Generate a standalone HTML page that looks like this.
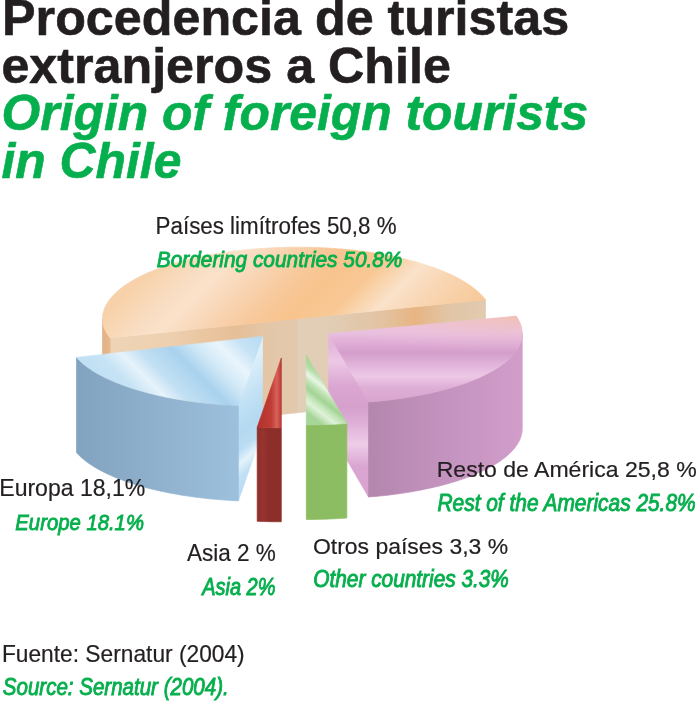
<!DOCTYPE html>
<html><head><meta charset="utf-8"><style>
html,body{margin:0;padding:0;background:#fff;}
svg{display:block;will-change:transform;}
text{font-family:"Liberation Sans",sans-serif;}
</style></head><body>
<svg width="700" height="702" viewBox="0 0 700 702">
<defs>
<linearGradient id="gOrTop" gradientUnits="userSpaceOnUse" x1="210" y1="210" x2="395" y2="395">
  <stop offset="0.000" stop-color="#f7d1a9"/>
  <stop offset="0.068" stop-color="#f8d8b7"/>
  <stop offset="0.135" stop-color="#f9dec4"/>
  <stop offset="0.192" stop-color="#fae2ca"/>
  <stop offset="0.257" stop-color="#f9dabd"/>
  <stop offset="0.324" stop-color="#f8d2ae"/>
  <stop offset="0.405" stop-color="#f8c99c"/>
  <stop offset="0.500" stop-color="#f8c38d"/>
  <stop offset="0.608" stop-color="#f8c894"/>
  <stop offset="0.719" stop-color="#fae2ca"/>
  <stop offset="0.789" stop-color="#f9d9ba"/>
  <stop offset="0.878" stop-color="#f8d1a9"/>
  <stop offset="1.000" stop-color="#f7c796"/>
</linearGradient>
<linearGradient id="gOrFaceL" gradientUnits="userSpaceOnUse" x1="111" y1="0" x2="297.5" y2="0">
  <stop offset="0" stop-color="#eed4b5"/>
  <stop offset="0.3" stop-color="#edd0b0"/>
  <stop offset="0.5" stop-color="#eac6a1"/>
  <stop offset="0.68" stop-color="#e6bf98"/>
  <stop offset="0.8" stop-color="#e5c5a5"/>
  <stop offset="0.9" stop-color="#e3c8ab"/>
  <stop offset="1" stop-color="#e2c8ac"/>
</linearGradient>
<linearGradient id="gOrFaceR" gradientUnits="userSpaceOnUse" x1="297.5" y1="0" x2="486" y2="0">
  <stop offset="0" stop-color="#e2cfb8"/>
  <stop offset="0.2" stop-color="#e1ccb3"/>
  <stop offset="0.45" stop-color="#e2c3a2"/>
  <stop offset="0.62" stop-color="#e7b582"/>
  <stop offset="0.8" stop-color="#e2c5a6"/>
  <stop offset="1" stop-color="#e1cbb0"/>
</linearGradient>
<linearGradient id="gOrSide" gradientUnits="userSpaceOnUse" x1="103" y1="0" x2="112" y2="0">
  <stop offset="0" stop-color="#e2b285"/>
  <stop offset="1" stop-color="#e6b98b"/>
</linearGradient>

<linearGradient id="gBlTop" gradientUnits="userSpaceOnUse" x1="0" y1="285" x2="107.5" y2="177.5">
  <stop offset="0" stop-color="#c0dff3"/>
  <stop offset="0.14" stop-color="#c6e3f5"/>
  <stop offset="0.247" stop-color="#e6f3fb"/>
  <stop offset="0.34" stop-color="#c3e0f3"/>
  <stop offset="0.507" stop-color="#a9d2ee"/>
  <stop offset="0.62" stop-color="#cfe8f7"/>
  <stop offset="0.74" stop-color="#eaf5fc"/>
  <stop offset="0.85" stop-color="#c6e2f5"/>
  <stop offset="1" stop-color="#b5daf2"/>
</linearGradient>
<linearGradient id="gBlFace" gradientUnits="userSpaceOnUse" x1="250" y1="360" x2="321.3" y2="443.7">
  <stop offset="0" stop-color="#dcf0fa"/>
  <stop offset="0.08" stop-color="#d6ecf9"/>
  <stop offset="0.28" stop-color="#c0e0f4"/>
  <stop offset="0.45" stop-color="#b4d9f1"/>
  <stop offset="0.57" stop-color="#bcddf3"/>
  <stop offset="0.657" stop-color="#e4f3fc"/>
  <stop offset="0.75" stop-color="#c2e0f4"/>
  <stop offset="0.9" stop-color="#b6daf2"/>
  <stop offset="1" stop-color="#b3d8f1"/>
</linearGradient>
<linearGradient id="gBlSide" gradientUnits="userSpaceOnUse" x1="76" y1="0" x2="238" y2="0">
  <stop offset="0" stop-color="#82a3c0"/>
  <stop offset="0.5" stop-color="#8fb1ce"/>
  <stop offset="1" stop-color="#9dc0dc"/>
</linearGradient>

<linearGradient id="gRdTop" gradientUnits="userSpaceOnUse" x1="258" y1="0" x2="282" y2="0">
  <stop offset="0" stop-color="#b3322c"/>
  <stop offset="0.55" stop-color="#c03c35"/>
  <stop offset="0.78" stop-color="#d8625b"/>
  <stop offset="0.92" stop-color="#c4453f"/>
  <stop offset="1" stop-color="#a92b26"/>
</linearGradient>
<linearGradient id="gRdSide" gradientUnits="userSpaceOnUse" x1="258" y1="0" x2="282" y2="0">
  <stop offset="0" stop-color="#8f2e2a"/>
  <stop offset="0.2" stop-color="#973430"/>
  <stop offset="0.4" stop-color="#8e2e2a"/>
  <stop offset="1" stop-color="#8d2d29"/>
</linearGradient>

<linearGradient id="gGrTop" gradientUnits="userSpaceOnUse" x1="300" y1="420" x2="338.4" y2="371.1">
  <stop offset="0" stop-color="#a8d699"/>
  <stop offset="0.16" stop-color="#a6d598"/>
  <stop offset="0.30" stop-color="#dff2d9"/>
  <stop offset="0.39" stop-color="#c3e5b8"/>
  <stop offset="0.47" stop-color="#a3d394"/>
  <stop offset="0.56" stop-color="#bde2b0"/>
  <stop offset="0.648" stop-color="#e9f6e5"/>
  <stop offset="0.75" stop-color="#b3dda6"/>
  <stop offset="0.88" stop-color="#a5d597"/>
  <stop offset="1" stop-color="#a5d597"/>
</linearGradient>
<linearGradient id="gGrSide" gradientUnits="userSpaceOnUse" x1="306" y1="0" x2="347" y2="0">
  <stop offset="0" stop-color="#8cbc61"/>
  <stop offset="1" stop-color="#8dbd62"/>
</linearGradient>

<linearGradient id="gPkTop" gradientUnits="userSpaceOnUse" x1="0" y1="314" x2="0" y2="402">
  <stop offset="0" stop-color="#efc6cc"/>
  <stop offset="0.09" stop-color="#ecc4dc"/>
  <stop offset="0.216" stop-color="#e9bfe0"/>
  <stop offset="0.33" stop-color="#dfadd6"/>
  <stop offset="0.443" stop-color="#d49ecb"/>
  <stop offset="0.568" stop-color="#e0b2da"/>
  <stop offset="0.705" stop-color="#edc8e6"/>
  <stop offset="0.84" stop-color="#deaed6"/>
  <stop offset="1" stop-color="#d9a5d0"/>
</linearGradient>
<linearGradient id="gPkFace" gradientUnits="userSpaceOnUse" x1="0" y1="334" x2="0" y2="497">
  <stop offset="0" stop-color="#e6bade"/>
  <stop offset="0.067" stop-color="#e3b5db"/>
  <stop offset="0.166" stop-color="#edc8e6"/>
  <stop offset="0.319" stop-color="#dba6d2"/>
  <stop offset="0.448" stop-color="#d6a0cd"/>
  <stop offset="0.558" stop-color="#e0b1d9"/>
  <stop offset="0.675" stop-color="#eecde8"/>
  <stop offset="0.81" stop-color="#daa6d1"/>
  <stop offset="1" stop-color="#d8a3cf"/>
</linearGradient>
<linearGradient id="gPkSide" gradientUnits="userSpaceOnUse" x1="369" y1="0" x2="523" y2="0">
  <stop offset="0" stop-color="#b487ae"/>
  <stop offset="0.5" stop-color="#c493bf"/>
  <stop offset="1" stop-color="#d29dca"/>
</linearGradient>

<radialGradient id="gPkPeach" gradientUnits="userSpaceOnUse" cx="0" cy="0" r="1" gradientTransform="translate(522 312) scale(210 40)">
  <stop offset="0" stop-color="#f3bea8" stop-opacity="0.95"/>
  <stop offset="0.35" stop-color="#f0c0bc" stop-opacity="0.6"/>
  <stop offset="0.7" stop-color="#eec4cf" stop-opacity="0.25"/>
  <stop offset="1" stop-color="#eec6dc" stop-opacity="0"/>
</radialGradient>

</defs>
<g id="orange">
<path d="M297.50,318.70 L485.50,299.71 L485.50,393.71 L297.50,412.70 Z" fill="url(#gOrFaceR)" stroke="url(#gOrFaceR)" stroke-width="0.7" stroke-linejoin="round"/>
<path d="M297.50,318.70 L110.05,337.94 L110.05,431.94 L297.50,412.70 Z" fill="url(#gOrFaceL)" stroke="url(#gOrFaceL)" stroke-width="0.7" stroke-linejoin="round"/>
<path d="M102.50,318.70 L102.53,319.85 L102.61,320.99 L102.74,322.14 L102.92,323.28 L103.16,324.43 L103.45,325.57 L103.79,326.71 L104.18,327.85 L104.63,328.98 L105.12,330.11 L105.67,331.24 L106.28,332.37 L106.93,333.49 L107.63,334.61 L108.39,335.73 L109.20,336.83 L110.05,337.94 L110.05,431.94 L109.20,430.83 L108.39,429.73 L107.63,428.61 L106.93,427.49 L106.28,426.37 L105.67,425.24 L105.12,424.11 L104.63,422.98 L104.18,421.85 L103.79,420.71 L103.45,419.57 L103.16,418.43 L102.92,417.28 L102.74,416.14 L102.61,414.99 L102.53,413.85 L102.50,412.70 Z" fill="url(#gOrSide)" stroke="url(#gOrSide)" stroke-width="0.7" stroke-linejoin="round"/>
<path d="M297.50,318.70 L485.50,299.71 L484.57,298.52 L483.58,297.32 L482.54,296.14 L481.44,294.96 L480.28,293.79 L479.07,292.63 L477.81,291.47 L476.49,290.32 L475.11,289.19 L473.68,288.06 L472.20,286.94 L470.67,285.83 L469.08,284.72 L467.44,283.63 L465.75,282.55 L464.01,281.49 L462.21,280.43 L460.37,279.38 L458.48,278.35 L456.54,277.33 L454.55,276.32 L452.51,275.32 L450.43,274.34 L448.30,273.37 L446.12,272.41 L443.90,271.47 L441.64,270.54 L439.33,269.63 L436.97,268.73 L434.58,267.85 L432.14,266.98 L429.67,266.13 L427.15,265.29 L424.60,264.47 L422.00,263.67 L419.37,262.88 L416.70,262.11 L413.99,261.36 L411.25,260.63 L408.48,259.91 L405.67,259.21 L402.83,258.53 L399.95,257.86 L397.05,257.22 L394.11,256.59 L391.15,255.99 L388.16,255.40 L385.14,254.83 L382.09,254.28 L379.02,253.75 L375.92,253.24 L372.80,252.75 L369.65,252.27 L366.49,251.82 L363.30,251.39 L360.10,250.98 L356.87,250.59 L353.63,250.23 L350.37,249.88 L347.09,249.55 L343.80,249.24 L340.49,248.96 L337.17,248.70 L333.84,248.45 L330.50,248.23 L327.15,248.03 L323.79,247.85 L320.42,247.70 L317.05,247.56 L313.66,247.45 L310.28,247.35 L306.89,247.28 L303.49,247.23 L300.10,247.21 L296.70,247.20 L293.31,247.22 L289.91,247.25 L286.52,247.31 L283.13,247.39 L279.75,247.50 L276.37,247.62 L273.00,247.77 L269.63,247.93 L266.27,248.12 L262.93,248.33 L259.59,248.56 L256.27,248.82 L252.95,249.09 L249.65,249.39 L246.37,249.70 L243.10,250.04 L239.85,250.40 L236.61,250.77 L233.40,251.17 L230.20,251.59 L227.02,252.03 L223.87,252.49 L220.73,252.97 L217.62,253.47 L214.54,253.99 L211.48,254.53 L208.44,255.09 L205.44,255.67 L202.46,256.27 L199.51,256.88 L196.58,257.52 L193.69,258.17 L190.84,258.84 L188.01,259.54 L185.22,260.24 L182.46,260.97 L179.73,261.71 L177.04,262.47 L174.39,263.25 L171.78,264.04 L169.20,264.86 L166.66,265.68 L164.16,266.53 L161.71,267.39 L159.29,268.26 L156.92,269.15 L154.58,270.06 L152.30,270.98 L150.05,271.91 L147.85,272.86 L145.70,273.82 L143.59,274.80 L141.53,275.79 L139.51,276.79 L137.55,277.80 L135.63,278.83 L133.76,279.87 L131.94,280.92 L130.17,281.99 L128.45,283.06 L126.79,284.14 L125.17,285.24 L123.61,286.35 L122.10,287.46 L120.64,288.59 L119.24,289.72 L117.89,290.86 L116.59,292.01 L115.35,293.17 L114.17,294.34 L113.04,295.51 L111.97,296.69 L110.95,297.88 L109.99,299.08 L109.08,300.28 L108.24,301.48 L107.45,302.69 L106.72,303.91 L106.04,305.13 L105.43,306.35 L104.87,307.58 L104.37,308.81 L103.93,310.05 L103.55,311.29 L103.23,312.53 L102.96,313.77 L102.76,315.01 L102.61,316.25 L102.53,317.50 L102.50,318.74 L102.53,319.96 L102.62,321.17 L102.77,322.39 L102.98,323.60 L103.25,324.81 L103.58,326.02 L103.96,327.23 L104.41,328.44 L104.91,329.64 L105.47,330.84 L106.09,332.03 L106.77,333.22 L107.50,334.41 L108.30,335.59 L109.15,336.77 L110.05,337.94 Z" fill="url(#gOrTop)" stroke="url(#gOrTop)" stroke-width="0.7" stroke-linejoin="round"/>

</g>
<g id="blue">
<path d="M262.50,336.40 L238.40,405.66 L238.40,500.86 L262.50,431.60 Z" fill="url(#gBlFace)" stroke="url(#gBlFace)" stroke-width="0.7" stroke-linejoin="round"/>
<path d="M76.53,357.39 L77.57,358.54 L78.66,359.68 L79.82,360.81 L81.02,361.94 L82.28,363.06 L83.60,364.17 L84.97,365.28 L86.39,366.37 L87.86,367.46 L89.39,368.53 L90.97,369.60 L92.60,370.66 L94.28,371.70 L96.01,372.74 L97.79,373.76 L99.62,374.78 L101.50,375.78 L103.42,376.77 L105.40,377.75 L107.42,378.72 L109.49,379.67 L111.60,380.61 L113.76,381.54 L115.96,382.45 L118.21,383.35 L120.50,384.24 L122.83,385.11 L125.21,385.97 L127.62,386.81 L130.08,387.64 L132.57,388.45 L135.11,389.25 L137.68,390.03 L140.29,390.79 L142.93,391.54 L145.62,392.27 L148.33,392.99 L151.08,393.68 L153.87,394.37 L156.68,395.03 L159.53,395.68 L162.41,396.30 L165.32,396.91 L168.26,397.51 L171.23,398.08 L174.22,398.64 L177.24,399.17 L180.29,399.69 L183.36,400.19 L186.45,400.67 L189.57,401.13 L192.70,401.58 L195.86,402.00 L199.04,402.40 L202.24,402.78 L205.46,403.15 L208.69,403.49 L211.94,403.81 L215.21,404.12 L218.48,404.40 L221.78,404.66 L225.08,404.90 L228.39,405.12 L231.72,405.32 L235.05,405.51 L238.40,405.66 L238.40,500.86 L235.05,500.71 L231.72,500.52 L228.39,500.32 L225.08,500.10 L221.78,499.86 L218.48,499.60 L215.21,499.32 L211.94,499.01 L208.69,498.69 L205.46,498.35 L202.24,497.98 L199.04,497.60 L195.86,497.20 L192.70,496.78 L189.57,496.33 L186.45,495.87 L183.36,495.39 L180.29,494.89 L177.24,494.37 L174.22,493.84 L171.23,493.28 L168.26,492.71 L165.32,492.11 L162.41,491.50 L159.53,490.88 L156.68,490.23 L153.87,489.57 L151.08,488.88 L148.33,488.19 L145.62,487.47 L142.93,486.74 L140.29,485.99 L137.68,485.23 L135.11,484.45 L132.57,483.65 L130.08,482.84 L127.62,482.01 L125.21,481.17 L122.83,480.31 L120.50,479.44 L118.21,478.55 L115.96,477.65 L113.76,476.74 L111.60,475.81 L109.49,474.87 L107.42,473.92 L105.40,472.95 L103.42,471.97 L101.50,470.98 L99.62,469.98 L97.79,468.96 L96.01,467.94 L94.28,466.90 L92.60,465.86 L90.97,464.80 L89.39,463.73 L87.86,462.66 L86.39,461.57 L84.97,460.48 L83.60,459.37 L82.28,458.26 L81.02,457.14 L79.82,456.01 L78.66,454.88 L77.57,453.74 L76.53,452.59 Z" fill="url(#gBlSide)" stroke="url(#gBlSide)" stroke-width="0.7" stroke-linejoin="round"/>
<path d="M262.50,336.40 L76.53,357.39 L77.57,358.54 L78.66,359.68 L79.82,360.81 L81.02,361.94 L82.28,363.06 L83.60,364.17 L84.97,365.28 L86.39,366.37 L87.86,367.46 L89.39,368.53 L90.97,369.60 L92.60,370.66 L94.28,371.70 L96.01,372.74 L97.79,373.76 L99.62,374.78 L101.50,375.78 L103.42,376.77 L105.40,377.75 L107.42,378.72 L109.49,379.67 L111.60,380.61 L113.76,381.54 L115.96,382.45 L118.21,383.35 L120.50,384.24 L122.83,385.11 L125.21,385.97 L127.62,386.81 L130.08,387.64 L132.57,388.45 L135.11,389.25 L137.68,390.03 L140.29,390.79 L142.93,391.54 L145.62,392.27 L148.33,392.99 L151.08,393.68 L153.87,394.37 L156.68,395.03 L159.53,395.68 L162.41,396.30 L165.32,396.91 L168.26,397.51 L171.23,398.08 L174.22,398.64 L177.24,399.17 L180.29,399.69 L183.36,400.19 L186.45,400.67 L189.57,401.13 L192.70,401.58 L195.86,402.00 L199.04,402.40 L202.24,402.78 L205.46,403.15 L208.69,403.49 L211.94,403.81 L215.21,404.12 L218.48,404.40 L221.78,404.66 L225.08,404.90 L228.39,405.12 L231.72,405.32 L235.05,405.51 L238.40,405.66 Z" fill="url(#gBlTop)" stroke="url(#gBlTop)" stroke-width="0.7" stroke-linejoin="round"/>
</g>
<g id="pink">
<path d="M328.60,333.70 L368.53,402.00 L368.53,497.00 L328.60,428.70 Z" fill="url(#gPkFace)" stroke="url(#gPkFace)" stroke-width="0.7" stroke-linejoin="round"/>
<path d="M368.53,402.00 L371.79,401.74 L375.04,401.46 L378.28,401.16 L381.50,400.84 L384.71,400.51 L387.90,400.15 L391.07,399.77 L394.22,399.37 L397.35,398.95 L400.47,398.51 L403.56,398.06 L406.63,397.58 L409.67,397.09 L412.69,396.57 L415.69,396.04 L418.66,395.49 L421.61,394.92 L424.52,394.33 L427.41,393.73 L430.27,393.10 L433.10,392.46 L435.89,391.80 L438.66,391.13 L441.39,390.44 L444.09,389.73 L446.76,389.00 L449.38,388.26 L451.98,387.50 L454.53,386.72 L457.05,385.93 L459.53,385.12 L461.98,384.30 L464.38,383.46 L466.74,382.61 L469.06,381.75 L471.34,380.87 L473.58,379.97 L475.77,379.06 L477.92,378.14 L480.02,377.20 L482.08,376.26 L484.10,375.30 L486.06,374.32 L487.99,373.34 L489.86,372.34 L491.68,371.33 L493.46,370.31 L495.19,369.28 L496.87,368.24 L498.50,367.19 L500.07,366.13 L501.60,365.05 L503.07,363.97 L504.50,362.88 L505.87,361.79 L507.19,360.68 L508.45,359.56 L509.66,358.44 L510.82,357.31 L511.92,356.18 L512.97,355.03 L513.96,353.88 L514.90,352.73 L515.79,351.56 L516.61,350.40 L517.38,349.23 L518.10,348.05 L518.76,346.87 L519.36,345.68 L519.90,344.50 L520.39,343.30 L520.82,342.11 L521.20,340.91 L521.51,339.71 L521.77,338.51 L521.98,337.31 L522.12,336.11 L522.21,334.90 L522.24,333.70 L522.24,428.70 L522.21,429.90 L522.12,431.11 L521.98,432.31 L521.77,433.51 L521.51,434.71 L521.20,435.91 L520.82,437.11 L520.39,438.30 L519.90,439.50 L519.36,440.68 L518.76,441.87 L518.10,443.05 L517.38,444.23 L516.61,445.40 L515.79,446.56 L514.90,447.73 L513.96,448.88 L512.97,450.03 L511.92,451.18 L510.82,452.31 L509.66,453.44 L508.45,454.56 L507.19,455.68 L505.87,456.79 L504.50,457.88 L503.07,458.97 L501.60,460.05 L500.07,461.13 L498.50,462.19 L496.87,463.24 L495.19,464.28 L493.46,465.31 L491.68,466.33 L489.86,467.34 L487.99,468.34 L486.06,469.32 L484.10,470.30 L482.08,471.26 L480.02,472.20 L477.92,473.14 L475.77,474.06 L473.58,474.97 L471.34,475.87 L469.06,476.75 L466.74,477.61 L464.38,478.46 L461.98,479.30 L459.53,480.12 L457.05,480.93 L454.53,481.72 L451.98,482.50 L449.38,483.26 L446.76,484.00 L444.09,484.73 L441.39,485.44 L438.66,486.13 L435.89,486.80 L433.10,487.46 L430.27,488.10 L427.41,488.73 L424.52,489.33 L421.61,489.92 L418.66,490.49 L415.69,491.04 L412.69,491.57 L409.67,492.09 L406.63,492.58 L403.56,493.06 L400.47,493.51 L397.35,493.95 L394.22,494.37 L391.07,494.77 L387.90,495.15 L384.71,495.51 L381.50,495.84 L378.28,496.16 L375.04,496.46 L371.79,496.74 L368.53,497.00 Z" fill="url(#gPkSide)" stroke="url(#gPkSide)" stroke-width="0.7" stroke-linejoin="round"/>
<path d="M328.60,333.70 L368.53,402.00 L371.81,401.74 L375.07,401.46 L378.33,401.16 L381.56,400.84 L384.79,400.50 L387.99,400.14 L391.18,399.75 L394.35,399.35 L397.49,398.93 L400.62,398.49 L403.73,398.03 L406.81,397.55 L409.87,397.05 L412.91,396.54 L415.92,396.00 L418.90,395.45 L421.86,394.87 L424.78,394.28 L427.68,393.67 L430.55,393.04 L433.39,392.39 L436.20,391.73 L438.98,391.05 L441.72,390.35 L444.43,389.64 L447.10,388.90 L449.74,388.15 L452.34,387.39 L454.90,386.61 L457.43,385.81 L459.92,385.00 L462.36,384.17 L464.77,383.32 L467.14,382.47 L469.46,381.59 L471.75,380.71 L473.98,379.80 L476.18,378.89 L478.33,377.96 L480.44,377.02 L482.50,376.06 L484.51,375.09 L486.48,374.11 L488.40,373.12 L490.27,372.11 L492.10,371.10 L493.87,370.07 L495.60,369.03 L497.27,367.98 L498.89,366.92 L500.47,365.85 L501.99,364.77 L503.46,363.69 L504.87,362.59 L506.24,361.48 L507.55,360.37 L508.80,359.25 L510.00,358.12 L511.15,356.98 L512.24,355.83 L513.28,354.68 L514.26,353.52 L515.19,352.36 L516.06,351.19 L516.87,350.02 L517.63,348.84 L518.33,347.65 L518.97,346.47 L519.55,345.27 L520.08,344.08 L520.55,342.88 L520.97,341.68 L521.32,340.48 L521.62,339.27 L521.86,338.06 L522.04,336.85 L522.16,335.65 L522.22,334.43 L522.23,333.21 L522.18,331.97 L522.07,330.73 L521.90,329.50 L521.67,328.26 L521.39,327.02 L521.05,325.79 L520.65,324.56 L520.19,323.33 L519.67,322.11 L519.10,320.88 L518.47,319.67 L517.78,318.45 L517.04,317.24 L516.24,316.04 Z" fill="url(#gPkTop)" stroke="url(#gPkTop)" stroke-width="0.7" stroke-linejoin="round"/>
<path d="M328.60,333.70 L368.53,402.00 L371.81,401.74 L375.07,401.46 L378.33,401.16 L381.56,400.84 L384.79,400.50 L387.99,400.14 L391.18,399.75 L394.35,399.35 L397.49,398.93 L400.62,398.49 L403.73,398.03 L406.81,397.55 L409.87,397.05 L412.91,396.54 L415.92,396.00 L418.90,395.45 L421.86,394.87 L424.78,394.28 L427.68,393.67 L430.55,393.04 L433.39,392.39 L436.20,391.73 L438.98,391.05 L441.72,390.35 L444.43,389.64 L447.10,388.90 L449.74,388.15 L452.34,387.39 L454.90,386.61 L457.43,385.81 L459.92,385.00 L462.36,384.17 L464.77,383.32 L467.14,382.47 L469.46,381.59 L471.75,380.71 L473.98,379.80 L476.18,378.89 L478.33,377.96 L480.44,377.02 L482.50,376.06 L484.51,375.09 L486.48,374.11 L488.40,373.12 L490.27,372.11 L492.10,371.10 L493.87,370.07 L495.60,369.03 L497.27,367.98 L498.89,366.92 L500.47,365.85 L501.99,364.77 L503.46,363.69 L504.87,362.59 L506.24,361.48 L507.55,360.37 L508.80,359.25 L510.00,358.12 L511.15,356.98 L512.24,355.83 L513.28,354.68 L514.26,353.52 L515.19,352.36 L516.06,351.19 L516.87,350.02 L517.63,348.84 L518.33,347.65 L518.97,346.47 L519.55,345.27 L520.08,344.08 L520.55,342.88 L520.97,341.68 L521.32,340.48 L521.62,339.27 L521.86,338.06 L522.04,336.85 L522.16,335.65 L522.22,334.43 L522.23,333.21 L522.18,331.97 L522.07,330.73 L521.90,329.50 L521.67,328.26 L521.39,327.02 L521.05,325.79 L520.65,324.56 L520.19,323.33 L519.67,322.11 L519.10,320.88 L518.47,319.67 L517.78,318.45 L517.04,317.24 L516.24,316.04 Z" fill="url(#gPkPeach)"/>
</g>
<g id="red">
<path d="M257.20,427.26 L260.20,427.39 L263.20,427.50 L266.21,427.59 L269.23,427.67 L272.24,427.72 L275.26,427.77 L278.28,427.79 L281.30,427.80 L281.30,521.80 L278.28,521.79 L275.26,521.77 L272.24,521.72 L269.23,521.67 L266.21,521.59 L263.20,521.50 L260.20,521.39 L257.20,521.26 Z" fill="url(#gRdSide)" stroke="url(#gRdSide)" stroke-width="0.7" stroke-linejoin="round"/>
<path d="M281.30,358.00 L257.20,427.26 L260.20,427.39 L263.20,427.50 L266.21,427.59 L269.23,427.67 L272.24,427.72 L275.26,427.77 L278.28,427.79 L281.30,427.80 Z" fill="url(#gRdTop)" stroke="url(#gRdTop)" stroke-width="0.7" stroke-linejoin="round"/>
</g>
<g id="green">
<path d="M306.30,424.90 L309.44,424.89 L312.58,424.86 L315.72,424.82 L318.86,424.76 L321.99,424.67 L325.12,424.57 L328.24,424.46 L331.36,424.32 L334.48,424.17 L337.58,424.00 L340.68,423.81 L343.76,423.60 L346.84,423.37 L346.84,517.97 L343.76,518.20 L340.68,518.41 L337.58,518.60 L334.48,518.77 L331.36,518.92 L328.24,519.06 L325.12,519.17 L321.99,519.27 L318.86,519.36 L315.72,519.42 L312.58,519.46 L309.44,519.49 L306.30,519.50 Z" fill="url(#gGrSide)" stroke="url(#gGrSide)" stroke-width="0.7" stroke-linejoin="round"/>
<path d="M306.30,355.10 L306.30,424.90 L309.44,424.89 L312.58,424.86 L315.72,424.82 L318.86,424.76 L321.99,424.67 L325.12,424.57 L328.24,424.46 L331.36,424.32 L334.48,424.17 L337.58,424.00 L340.68,423.81 L343.76,423.60 L346.84,423.37 Z" fill="url(#gGrTop)" stroke="url(#gGrTop)" stroke-width="0.7" stroke-linejoin="round"/>
</g>

<text transform="translate(2.08 34.70) scale(1.0054 1)" font-weight="bold" font-style="normal" font-size="50.00" fill="#231f20" stroke="#231f20" stroke-width="0.60" stroke-linejoin="round">Procedencia de turistas</text>
<text transform="translate(1.39 82.70) scale(1.0050 1)" font-weight="bold" font-style="normal" font-size="50.00" fill="#231f20" stroke="#231f20" stroke-width="0.60" stroke-linejoin="round">extranjeros a Chile</text>
<text transform="translate(1.51 130.30) scale(0.9822 1)" font-weight="bold" font-style="italic" font-size="50.72" fill="#06af4d" stroke="#06af4d" stroke-width="0.60" stroke-linejoin="round">Origin of foreign tourists</text>
<text transform="translate(1.51 177.50) scale(0.9822 1)" font-weight="bold" font-style="italic" font-size="50.72" fill="#06af4d" stroke="#06af4d" stroke-width="0.60" stroke-linejoin="round">in Chile</text>
<text transform="translate(155.61 233.60) scale(0.9524 1)" font-weight="normal" font-style="normal" font-size="23.48" fill="#231f20" stroke="#231f20" stroke-width="0.20" stroke-linejoin="round">Países limítrofes 50,8 %</text>
<text transform="translate(156.79 266.60) scale(0.9613 1)" font-style="italic" font-size="21.69" fill="#06af4d" stroke="#06af4d" stroke-width="0.84">Bordering countries 50.8%</text>
<text transform="translate(-0.74 495.60) scale(0.9942 1)" font-weight="normal" font-style="normal" font-size="23.19" fill="#231f20" stroke="#231f20" stroke-width="0.20" stroke-linejoin="round">Europa 18,1%</text>
<text transform="translate(15.30 529.90) scale(0.9016 1)" font-style="italic" font-size="22.54" fill="#06af4d" stroke="#06af4d" stroke-width="0.87">Europe 18.1%</text>
<text transform="translate(186.90 560.90) scale(0.9549 1)" font-weight="normal" font-style="normal" font-size="23.62" fill="#231f20" stroke="#231f20" stroke-width="0.20" stroke-linejoin="round">Asia 2 %</text>
<text transform="translate(202.20 594.80) scale(0.8595 1)" font-style="italic" font-size="23.24" fill="#06af4d" stroke="#06af4d" stroke-width="0.90">Asia 2%</text>
<text transform="translate(312.95 553.60) scale(1.0095 1)" font-weight="normal" font-style="normal" font-size="22.75" fill="#231f20" stroke="#231f20" stroke-width="0.20" stroke-linejoin="round">Otros países 3,3 %</text>
<text transform="translate(313.27 586.60) scale(0.8551 1)" font-style="italic" font-size="24.37" fill="#06af4d" stroke="#06af4d" stroke-width="0.94">Other countries 3.3%</text>
<text transform="translate(436.66 477.00) scale(1.0071 1)" font-weight="normal" font-style="normal" font-size="22.90" fill="#231f20" stroke="#231f20" stroke-width="0.20" stroke-linejoin="round">Resto de América 25,8 %</text>
<text transform="translate(437.49 510.60) scale(0.8943 1)" font-style="italic" font-size="23.38" fill="#06af4d" stroke="#06af4d" stroke-width="0.90">Rest of the Americas 25.8%</text>
<text transform="translate(1.88 662.10) scale(0.9813 1)" font-weight="normal" font-style="normal" font-size="23.19" fill="#231f20" stroke="#231f20" stroke-width="0.20" stroke-linejoin="round">Fuente: Sernatur (2004)</text>
<text transform="translate(2.79 695.20) scale(0.8889 1)" font-style="italic" font-size="23.10" fill="#06af4d" stroke="#06af4d" stroke-width="0.89">Source: Sernatur (2004).</text>
</svg>
</body></html>
